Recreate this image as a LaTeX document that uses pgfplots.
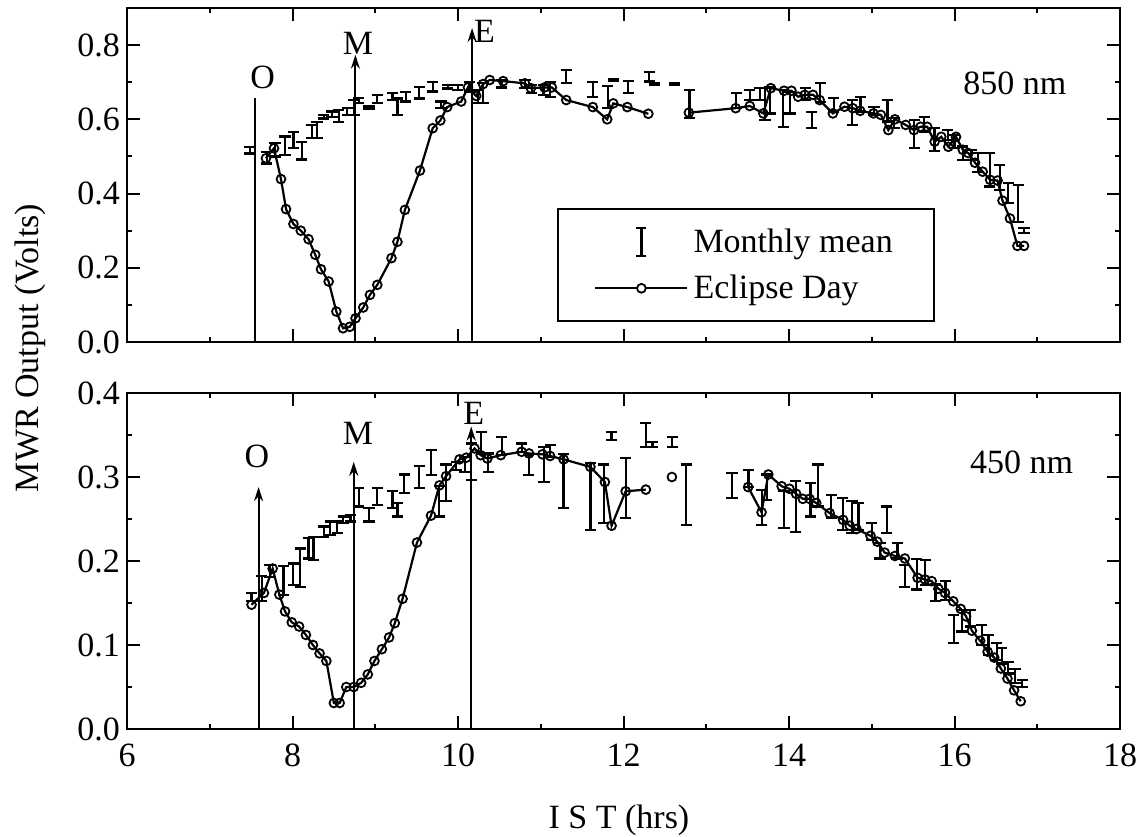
\documentclass[border=0pt]{standalone}
\usepackage{fontspec}
\setmainfont{Liberation Serif}
\usepackage{pgfplots}
\pgfplotsset{compat=1.18}
\usepackage{pgfplotstable}
\usetikzlibrary{arrows.meta}

\pgfplotstableread{
x y
7.679 0.495
7.776 0.522
7.861 0.439
7.922 0.358
8.011 0.318
8.100 0.300
8.194 0.277
8.275 0.235
8.344 0.196
8.437 0.163
8.530 0.082
8.611 0.037
8.692 0.041
8.762 0.064
8.855 0.093
8.936 0.127
9.025 0.154
9.196 0.226
9.268 0.270
9.358 0.356
9.540 0.462
9.694 0.576
9.787 0.597
9.869 0.633
10.039 0.648
10.120 0.686
10.220 0.663
10.303 0.695
10.383 0.706
10.546 0.703
10.809 0.697
10.880 0.684
11.045 0.686
11.134 0.686
11.308 0.652
11.629 0.633
11.803 0.600
11.876 0.643
12.046 0.633
12.300 0.615
nan nan
12.790 0.618
13.356 0.630
13.526 0.636
13.689 0.616
13.780 0.684
13.940 0.677
14.030 0.677
14.110 0.661
14.190 0.666
14.290 0.666
14.370 0.652
14.530 0.616
14.670 0.634
14.770 0.630
14.860 0.623
15.020 0.616
15.110 0.612
15.200 0.571
15.280 0.600
15.410 0.585
15.510 0.571
15.590 0.580
15.670 0.580
15.760 0.540
15.840 0.553
15.925 0.526
16.018 0.553
16.100 0.518
16.167 0.509
16.248 0.483
16.340 0.459
16.430 0.437
16.520 0.435
16.580 0.381
16.670 0.333
16.760 0.259
16.840 0.259
}\topecl

\pgfplotstableread{
x y e
7.484 0.517 0.009
7.687 0.497 0.016
7.788 0.518 0.018
7.910 0.529 0.025
8.011 0.544 0.022
8.113 0.516 0.024
8.235 0.567 0.018
8.296 0.571 0.022
8.376 0.607 0.005
8.478 0.614 0.007
8.559 0.609 0.016
8.660 0.621 0.009
8.742 0.632 0.020
8.802 0.650 0.007
8.924 0.632 0.003
9.025 0.654 0.011
9.208 0.661 0.009
9.269 0.634 0.022
9.370 0.661 0.013
9.532 0.672 0.016
9.694 0.688 0.013
9.795 0.639 0.009
9.877 0.688 0.005
9.998 0.686 0.007
10.140 0.688 0.013
10.242 0.661 0.018
10.303 0.670 0.027
10.526 0.696 0.010
10.809 0.695 0.011
10.890 0.681 0.011
11.033 0.679 0.013
11.114 0.681 0.020
11.308 0.715 0.018
11.629 0.681 0.020
11.810 0.660 0.030
11.880 0.706 0.003
12.058 0.687 0.017
12.310 0.715 0.013
12.371 0.695 0.003
12.614 0.695 0.003
12.797 0.641 0.038
13.364 0.650 0.020
13.527 0.666 0.013
13.648 0.668 0.016
13.709 0.641 0.043
13.770 0.652 0.036
13.932 0.630 0.050
14.013 0.645 0.029
14.196 0.668 0.016
14.276 0.598 0.022
14.378 0.672 0.025
14.540 0.639 0.018
14.763 0.619 0.034
14.865 0.641 0.020
15.027 0.623 0.011
15.189 0.623 0.029
15.270 0.590 0.013
15.513 0.560 0.038
15.635 0.587 0.020
15.757 0.545 0.031
15.918 0.558 0.013
16.000 0.540 0.018
16.101 0.509 0.018
16.203 0.504 0.013
16.284 0.484 0.025
16.426 0.464 0.045
16.547 0.443 0.034
16.649 0.401 0.027
16.770 0.374 0.050
16.840 0.300 0.007
}\topmm

\pgfplotstableread{
x y
7.505 0.148
7.655 0.162
7.760 0.191
7.841 0.160
7.910 0.140
7.991 0.127
8.080 0.122
8.162 0.112
8.247 0.100
8.327 0.090
8.409 0.081
8.500 0.031
8.570 0.031
8.650 0.050
8.740 0.050
8.830 0.055
8.910 0.065
8.990 0.081
9.080 0.095
9.167 0.109
9.236 0.126
9.330 0.155
9.504 0.222
9.674 0.254
9.775 0.290
9.856 0.301
10.018 0.321
10.100 0.323
10.200 0.334
10.274 0.326
10.355 0.322
10.517 0.326
10.769 0.330
10.858 0.328
11.020 0.327
11.113 0.325
11.276 0.321
11.600 0.312
11.775 0.294
11.856 0.242
12.026 0.283
12.270 0.285
nan nan
12.585 0.300
nan nan
13.506 0.288
13.668 0.258
13.750 0.303
13.911 0.289
14.005 0.286
14.086 0.280
14.167 0.274
14.248 0.274
14.329 0.269
14.491 0.257
14.653 0.249
14.734 0.242
14.815 0.238
14.985 0.230
15.067 0.223
15.156 0.210
15.280 0.206
15.400 0.203
15.554 0.180
15.643 0.178
15.724 0.176
15.805 0.167
15.885 0.162
15.985 0.152
16.075 0.143
16.140 0.134
16.210 0.117
16.310 0.105
16.400 0.092
16.480 0.085
16.560 0.072
16.640 0.060
16.720 0.046
16.800 0.033
}\botecl

\pgfplotstableread{
x y e
7.505 0.157 0.005
7.627 0.167 0.015
7.728 0.188 0.007
7.890 0.177 0.017
8.010 0.184 0.013
8.092 0.192 0.023
8.193 0.215 0.012
8.254 0.215 0.014
8.376 0.235 0.006
8.457 0.239 0.008
8.539 0.240 0.007
8.612 0.249 0.004
8.700 0.251 0.004
8.800 0.276 0.011
8.924 0.255 0.008
9.025 0.277 0.010
9.208 0.273 0.010
9.269 0.261 0.008
9.350 0.292 0.011
9.530 0.300 0.013
9.675 0.317 0.015
9.775 0.271 0.018
9.856 0.293 0.022
9.978 0.313 0.005
10.080 0.315 0.009
10.160 0.318 0.022
10.280 0.341 0.013
10.364 0.317 0.011
10.530 0.337 0.011
10.770 0.335 0.005
10.856 0.314 0.012
11.040 0.315 0.021
11.113 0.331 0.007
11.276 0.295 0.032
11.600 0.277 0.040
11.763 0.280 0.035
11.855 0.349 0.005
12.026 0.287 0.036
12.270 0.350 0.014
12.350 0.339 0.003
12.590 0.342 0.006
12.757 0.279 0.036
13.310 0.290 0.015
13.510 0.298 0.010
13.670 0.264 0.021
13.730 0.288 0.015
13.940 0.261 0.022
14.080 0.265 0.030
14.260 0.273 0.020
14.350 0.290 0.025
14.510 0.265 0.014
14.650 0.256 0.019
14.760 0.252 0.019
14.840 0.253 0.016
15.000 0.235 0.010
15.100 0.212 0.009
15.180 0.249 0.016
15.310 0.212 0.009
15.400 0.182 0.013
15.545 0.184 0.018
15.647 0.186 0.015
15.770 0.162 0.010
15.890 0.165 0.011
15.990 0.119 0.017
16.090 0.129 0.013
16.190 0.132 0.010
16.330 0.112 0.012
16.410 0.100 0.012
16.510 0.092 0.010
16.570 0.087 0.009
16.650 0.073 0.007
16.730 0.063 0.008
16.820 0.054 0.004
}\botmm

\newcommand{\bigf}{\fontsize{17}{20}\selectfont}

\tikzset{
  ann/.style={line width=1pt, black},
  arr/.style={line width=1pt, black, -{Stealth[length=7pt,width=4.5pt]}},
}

\pgfplotsset{
  panel/.style={
    scale only axis, width=496.5pt, xmin=6, xmax=18,
    xtick={6,8,...,18}, minor x tick num=1,
    tick align=inside, major tick length=6.5pt, minor tick length=2.5pt,
    tick style={line width=1pt, black},
    axis line style={line width=1.3pt},
    tick label style={font=\bigf},
    /pgf/number format/assume math mode=true,
    yticklabel style={/pgf/number format/.cd, fixed, fixed zerofill, precision=1},
    xticklabel style={yshift=-4pt},
    unbounded coords=jump,
  },
  ecl/.style={black, line width=1.1pt, mark=o, mark size=2.2pt,
    mark options={fill=white, line width=0.9pt, solid}},
  mm/.style={draw=none, mark=none, forget plot,
    error bars/.cd, y dir=both, y explicit, error mark=-,
    error mark options={rotate=90, mark size=2.8pt, line width=1.1pt, draw=black},
    error bar style={line width=1.1pt, draw=black, solid}},
}

\begin{document}
\begin{tikzpicture}
\useasboundingbox (-63.5pt,-53.5pt) rectangle (506pt,364.5pt);

% top panel: 850 nm
\begin{axis}[panel, at={(0pt,193.5pt)}, anchor=south west, height=167pt,
  ymin=0, ymax=0.9, ytick={0,0.2,...,0.8}, minor y tick num=1,
  xticklabels={},
  legend style={at={(axis cs:11.2,0.055)}, anchor=south west, draw=black,
    line width=1pt, fill=white, inner xsep=18pt, inner ysep=7pt, row sep=5pt,
    font=\bigf, nodes={inner sep=2.5pt}},
  legend cell align=left]
  \draw[ann] (axis cs:7.545,0) -- (axis cs:7.545,0.658);
  \draw[arr] (axis cs:8.76,0) -- (axis cs:8.76,0.774);
  \draw[arr] (axis cs:10.17,0) -- (axis cs:10.17,0.846);
  \node[font=\bigf] at (axis cs:7.64,0.712) {O};
  \node[font=\bigf] at (axis cs:8.79,0.806) {M};
  \node[font=\bigf] at (axis cs:10.32,0.836) {E};
  \node[font=\bigf] at (axis cs:16.73,0.698) {850 nm};
  \addplot[mm] table[x=x, y=y, y error=e] {\topmm};
  \addplot[ecl, forget plot] table[x=x, y=y] {\topecl};
  \addlegendimage{legend image code/.code={
    \draw[line width=1.1pt] (23pt,-7pt)--(23pt,7pt) (20.5pt,-7pt)--(25.5pt,-7pt) (20.5pt,7pt)--(25.5pt,7pt);}}
  \addlegendentry{Monthly mean}
  \addlegendimage{legend image code/.code={
    \draw[line width=1.1pt] (0pt,0pt)--(46pt,0pt);
    \draw[line width=0.9pt, fill=white] (23pt,0pt) circle (2.2pt);}}
  \addlegendentry{Eclipse Day}
\end{axis}

% bottom panel: 450 nm
\begin{axis}[panel, at={(0pt,0pt)}, anchor=south west, height=168pt,
  ymin=0, ymax=0.4, ytick={0,0.1,...,0.4}, minor y tick num=1]
  \draw[arr] (axis cs:7.59,0) -- (axis cs:7.59,0.288);
  \draw[arr] (axis cs:8.74,0) -- (axis cs:8.74,0.318);
  \draw[arr] (axis cs:10.16,0) -- (axis cs:10.16,0.360);
  \node[font=\bigf] at (axis cs:7.57,0.324) {O};
  \node[font=\bigf] at (axis cs:8.79,0.352) {M};
  \node[font=\bigf] at (axis cs:10.19,0.376) {E};
  \node[font=\bigf] at (axis cs:16.81,0.317) {450 nm};
  \addplot[mm] table[x=x, y=y, y error=e] {\botmm};
  \addplot[ecl] table[x=x, y=y] {\botecl};
\end{axis}

\node[rotate=90, font=\bigf] at (-48.5pt,190.5pt) {MWR Output (Volts)};
\node[font=\bigf] at (246pt,-45.5pt) {I S T (hrs)};
\end{tikzpicture}
\end{document}
